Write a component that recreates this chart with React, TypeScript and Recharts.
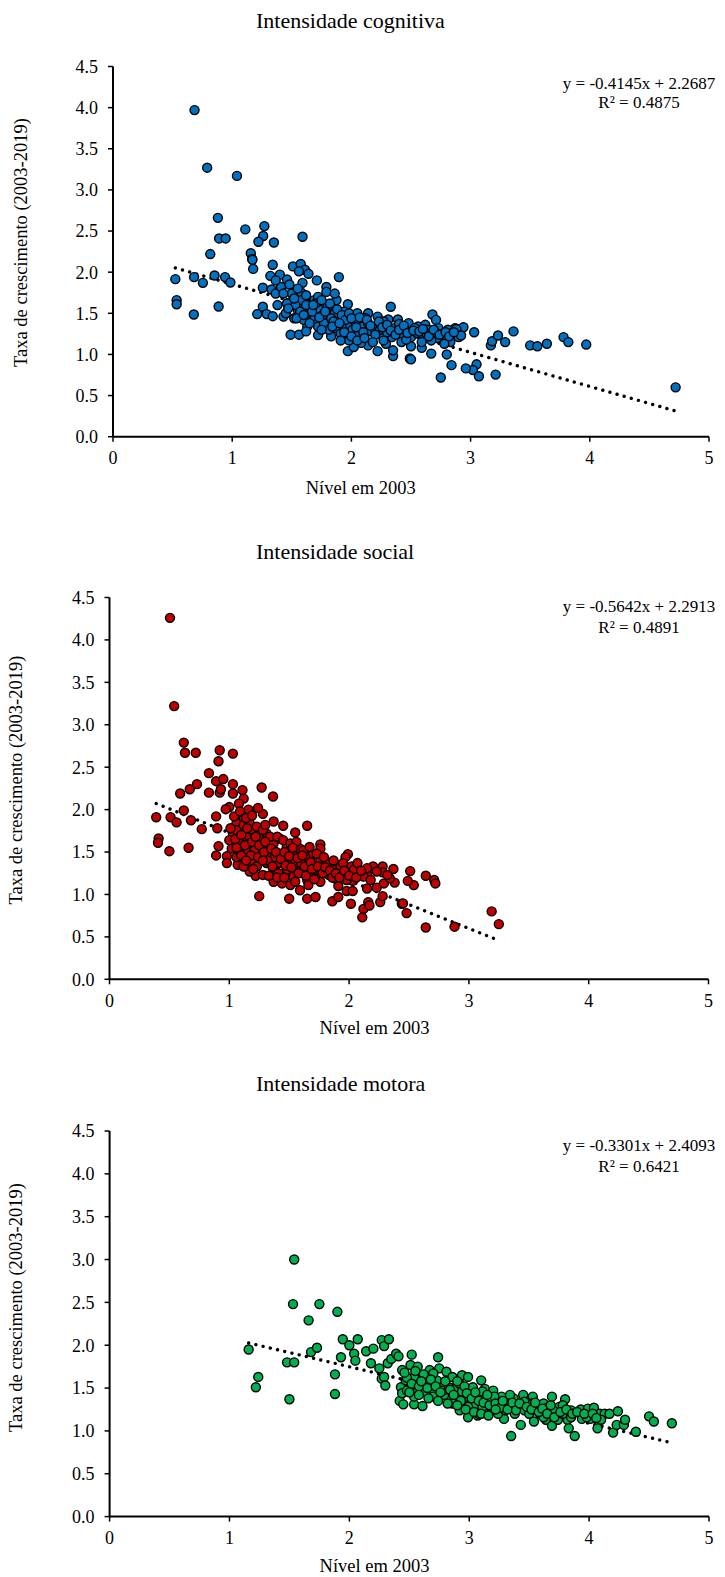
import React from 'react';
import { ScatterChart, Scatter, XAxis, YAxis } from 'recharts';

const FONT = '"Liberation Serif", "Times New Roman", serif';

const chartTitles = ['Intensidade cognitiva', 'Intensidade social', 'Intensidade motora'];
const equations = ['y = -0.4145x + 2.2687', 'y = -0.5642x + 2.2913', 'y = -0.3301x + 2.4093'];
const rSquared = ['R² = 0.4875', 'R² = 0.4891', 'R² = 0.6421'];
const slopes = [-0.4145, -0.5642, -0.3301];
const intercepts = [2.2687, 2.2913, 2.4093];
const xTicks = [0, 1, 2, 3, 4, 5];
const yTicks = [0, 0.5, 1, 1.5, 2, 2.5, 3, 3.5, 4, 4.5];
const xAxisTitle = 'Nível em 2003';
const yAxisTitle = 'Taxa de crescimento (2003-2019)';
const colors = ['#0070C0', '#C00000', '#00B050'];

const cognitivaPoints: [number, number][] = [
  [0.684, 3.97], [0.79, 3.27], [1.04, 3.17], [0.88, 2.66], [1.11, 2.52], [1.27, 2.56], [1.26, 2.44],
  [1.22, 2.37], [0.89, 2.41], [0.945, 2.41], [1.35, 2.36], [1.59, 2.43], [0.816, 2.22], [1.156, 2.23],
  [1.167, 2.16], [1.176, 2.04], [1.17, 2.15], [0.523, 1.915], [0.534, 1.66], [0.534, 1.61], [0.68, 1.94],
  [0.754, 1.87], [0.852, 1.96], [0.94, 1.94], [0.985, 1.875], [0.678, 1.486], [0.886, 1.583], [1.257, 1.81],
  [1.34, 2.09], [1.257, 1.58], [1.21, 1.49], [1.29, 1.49], [1.34, 1.465], [1.43, 1.46], [1.32, 1.955],
  [1.4, 1.97], [1.33, 1.79], [1.365, 1.74], [1.51, 2.07], [1.575, 2.1], [1.61, 2.03], [1.64, 1.98],
  [1.56, 2.01], [1.71, 1.9], [1.895, 1.94], [1.59, 1.87], [1.46, 1.91], [1.49, 1.24], [1.56, 1.24],
  [1.97, 1.04], [1.58, 1.75], [1.61, 1.66], [1.48, 1.63], [1.41, 1.82], [1.79, 1.82], [1.79, 1.76],
  [2.33, 1.58], [2.68, 1.486], [2.75, 0.72], [2.8, 1.0], [2.84, 0.87], [2.49, 0.95], [2.5, 0.94],
  [2.35, 0.98], [2.35, 1.05], [2.67, 1.01], [2.5, 1.1], [2.59, 1.08], [2.72, 1.2], [2.87, 1.32],
  [2.9, 1.21], [2.83, 1.15], [2.22, 1.04], [2.14, 1.11], [2.08, 1.14], [2.02, 1.09], [1.98, 1.17],
  [1.72, 1.235], [1.83, 1.22], [1.63, 1.34], [1.72, 1.34], [1.66, 1.445], [1.74, 1.54], [1.875, 1.66],
  [1.97, 1.61], [1.96, 1.35], [1.87, 1.32], [1.91, 1.43], [2.05, 1.5], [2.14, 1.5], [2.22, 1.46],
  [2.31, 1.425], [2.39, 1.425], [2.48, 1.38], [2.56, 1.34], [2.62, 1.36], [2.71, 1.42], [2.81, 1.3],
  [2.1, 1.34], [2.17, 1.28], [2.25, 1.235], [2.34, 1.21], [2.42, 1.255], [2.5, 1.21], [2.59, 1.235],
  [2.67, 1.17], [1.99, 1.36], [1.86, 1.5], [1.8, 1.58], [1.69, 1.66], [1.55, 1.54], [1.46, 1.62],
  [1.5, 1.74], [1.45, 1.5], [1.6, 1.42], [1.69, 1.46], [1.77, 1.38], [1.83, 1.44], [1.91, 1.255],
  [2.03, 1.4], [2.14, 1.38], [2.19, 1.32], [2.28, 1.36], [2.36, 1.32], [2.45, 1.3], [2.53, 1.32],
  [2.64, 1.3], [2.73, 1.32], [2.84, 1.255], [2.29, 1.13], [2.42, 1.15], [2.59, 1.15], [2.78, 1.13],
  [1.91, 1.17], [2.08, 1.21], [1.63, 1.5], [1.58, 1.66], [1.43, 1.74], [1.365, 1.9], [1.72, 1.7],
  [1.86, 1.74], [3.03, 1.27], [3.05, 0.88], [3.02, 0.81], [3.07, 0.735], [2.96, 0.83], [3.21, 0.755],
  [3.17, 1.11], [3.18, 1.16], [3.23, 1.23], [3.29, 1.15], [3.36, 1.28], [3.5, 1.11], [3.56, 1.1],
  [3.64, 1.13], [3.78, 1.21], [3.82, 1.15], [3.97, 1.12], [4.72, 0.6], [2.94, 1.33], [2.88, 1.31],
  [2.92, 1.23], [1.53, 1.6], [1.66, 1.56], [1.76, 1.48], [1.94, 1.52], [2.01, 1.3], [2.12, 1.44],
  [2.24, 1.3], [2.4, 1.37], [2.55, 1.26], [2.63, 1.25], [2.76, 1.25], [2.3, 1.27], [1.52, 1.44],
  [1.62, 1.28], [1.81, 1.3], [2.06, 1.24], [2.27, 1.4], [2.46, 1.18], [2.7, 1.27],
  [1.52, 1.68], [1.57, 1.52], [1.62, 1.6], [1.67, 1.52], [1.7, 1.62], [1.73, 1.45], [1.78, 1.52],
  [1.82, 1.62], [1.85, 1.4], [1.88, 1.55], [1.92, 1.48], [1.95, 1.42], [1.98, 1.5], [2.0, 1.44],
  [2.04, 1.33], [2.07, 1.45], [2.1, 1.27], [2.13, 1.42], [2.16, 1.35], [2.2, 1.24], [2.23, 1.4],
  [2.26, 1.33], [2.3, 1.36], [2.33, 1.29], [2.37, 1.24], [2.4, 1.3], [2.44, 1.35], [2.47, 1.26],
  [2.52, 1.29], [2.57, 1.28], [2.6, 1.31], [2.65, 1.22], [2.69, 1.3], [2.74, 1.24], [2.79, 1.27],
  [2.82, 1.22], [2.86, 1.27], [1.47, 1.56], [1.54, 1.44], [1.6, 1.48], [1.65, 1.38], [1.75, 1.3],
  [1.84, 1.34], [1.9, 1.38], [1.94, 1.27], [2.0, 1.22], [2.05, 1.17], [2.11, 1.2], [2.18, 1.15],
  [2.27, 1.17], [1.68, 1.6], [1.75, 1.66], [1.62, 1.72], [1.55, 1.8], [1.48, 1.85], [1.38, 1.6],
];

const socialPoints: [number, number][] = [
  [0.505, 4.26], [0.54, 3.22], [0.62, 2.79], [0.63, 2.67], [0.72, 2.67], [0.92, 2.7], [1.03, 2.66],
  [0.91, 2.57], [0.83, 2.43], [0.89, 2.335], [0.95, 2.36], [0.59, 2.19], [0.67, 2.24], [0.73, 2.3],
  [0.83, 2.2], [0.92, 2.2], [0.93, 2.24], [1.03, 2.3], [1.03, 2.19], [1.11, 2.23], [1.12, 2.13],
  [1.27, 2.26], [1.365, 2.155], [0.62, 1.99], [0.68, 1.875], [0.77, 1.77], [0.39, 1.91], [0.51, 1.91],
  [0.56, 1.85], [0.41, 1.66], [0.405, 1.61], [0.5, 1.51], [0.66, 1.55], [0.89, 1.92], [0.9, 1.78],
  [0.91, 1.57], [0.89, 1.46], [0.98, 1.45], [0.98, 1.37], [1.07, 1.35], [1.15, 1.37], [1.22, 1.22],
  [1.25, 0.98], [1.5, 0.95], [1.65, 0.95], [1.72, 0.97], [1.86, 0.92], [1.91, 0.97], [2.015, 0.89],
  [1.98, 1.04], [2.03, 1.04], [2.11, 0.73], [2.12, 0.83], [2.16, 0.91], [2.17, 0.87], [2.26, 0.91],
  [2.28, 0.98], [2.44, 0.89], [2.45, 0.895], [2.48, 0.78], [2.64, 0.61], [2.88, 0.62], [3.19, 0.8],
  [3.25, 0.65], [2.51, 1.275], [2.64, 1.22], [2.71, 1.17], [2.72, 1.13], [2.54, 1.11], [2.49, 1.16],
  [2.37, 1.3], [2.38, 1.14], [2.28, 1.33], [2.28, 1.26], [2.2, 1.33], [2.23, 1.08], [2.15, 1.07],
  [2.15, 1.24], [2.08, 1.25], [1.99, 1.475], [1.97, 1.44], [1.9, 1.35], [1.94, 1.25], [2.02, 1.33],
  [2.03, 1.16], [1.91, 1.1], [1.98, 1.17], [1.82, 1.3], [1.76, 1.59], [1.76, 1.54], [1.65, 1.81],
  [1.45, 1.81], [1.55, 1.73], [1.37, 1.86], [1.28, 1.95], [1.24, 2.02], [1.16, 2.0], [1.12, 1.89],
  [1.08, 2.07], [1.0, 2.03], [0.97, 2.005], [1.06, 1.84], [1.03, 1.72], [1.09, 1.6], [1.14, 1.68],
  [1.2, 1.76], [1.26, 1.64], [1.31, 1.72], [1.37, 1.6], [1.42, 1.66], [1.48, 1.56], [1.535, 1.5],
  [1.59, 1.54], [1.65, 1.44], [1.7, 1.48], [1.76, 1.4], [1.81, 1.37], [1.87, 1.29], [1.93, 1.33],
  [2.04, 1.29], [2.12, 1.21], [2.18, 1.17], [2.29, 1.13], [2.34, 1.19], [1.09, 1.44], [1.14, 1.52],
  [1.2, 1.4], [1.26, 1.48], [1.31, 1.37], [1.37, 1.29], [1.42, 1.37], [1.48, 1.29], [1.535, 1.21],
  [1.59, 1.29], [1.65, 1.17], [1.7, 1.23], [1.76, 1.15], [1.37, 1.15], [1.44, 1.13], [1.51, 1.11],
  [1.59, 1.05], [1.66, 1.11], [1.28, 1.23], [1.23, 1.33], [1.17, 1.27], [1.12, 1.33], [1.06, 1.44],
  [1.02, 1.54], [1.0, 1.64], [1.06, 1.76], [1.12, 1.82], [1.17, 1.84], [1.23, 1.8], [1.28, 1.76],
  [1.34, 1.68], [1.4, 1.68], [1.45, 1.64], [1.51, 1.6], [1.56, 1.62], [1.62, 1.52], [1.67, 1.56],
  [1.73, 1.48], [1.79, 1.44], [1.87, 1.4], [1.95, 1.37], [2.07, 1.37], [2.15, 1.31], [2.23, 1.27],
  [2.32, 1.23], [1.16, 1.6], [1.21, 1.52], [1.27, 1.56], [1.33, 1.48], [1.38, 1.44], [1.44, 1.46],
  [1.49, 1.4], [1.55, 1.37], [1.6, 1.37], [1.66, 1.31], [1.72, 1.29], [1.77, 1.27], [1.83, 1.23],
  [1.88, 1.19],
  [1.05, 1.65], [1.08, 1.52], [1.1, 1.7], [1.13, 1.58], [1.15, 1.78], [1.18, 1.46], [1.19, 1.62],
  [1.22, 1.68], [1.24, 1.44], [1.25, 1.58], [1.29, 1.5], [1.3, 1.62], [1.32, 1.4], [1.35, 1.54],
  [1.36, 1.33], [1.39, 1.5], [1.41, 1.25], [1.43, 1.42], [1.46, 1.5], [1.47, 1.34], [1.5, 1.45],
  [1.52, 1.32], [1.53, 1.55], [1.57, 1.43], [1.58, 1.25], [1.61, 1.46], [1.63, 1.33], [1.64, 1.22],
  [1.68, 1.38], [1.69, 1.3], [1.71, 1.18], [1.74, 1.33], [1.78, 1.25], [1.8, 1.32], [1.84, 1.28],
  [1.86, 1.2], [1.89, 1.25], [1.92, 1.2], [1.96, 1.28], [2.0, 1.22], [2.06, 1.2], [2.1, 1.28],
  [1.1, 1.46], [1.14, 1.4], [1.2, 1.3], [1.28, 1.4], [1.33, 1.22], [1.4, 1.2], [1.46, 1.2],
  [1.55, 1.15], [1.06, 1.55], [1.01, 1.78], [1.04, 1.92], [1.09, 1.98], [1.14, 1.9], [1.19, 1.93],
  [1.3, 1.82],
];

const motoraPoints: [number, number][] = [
  [1.54, 3.0], [1.53, 2.48], [1.75, 2.48], [1.9, 2.39], [1.66, 2.29], [1.16, 1.95], [1.22, 1.51],
  [1.24, 1.63], [1.5, 1.37], [1.48, 1.8], [1.54, 1.8], [1.68, 1.92], [1.73, 1.97], [1.88, 1.66],
  [1.88, 1.43], [1.93, 1.86], [1.945, 2.07], [2.07, 2.07], [2.0, 2.0], [2.04, 1.9], [2.05, 1.82],
  [2.14, 1.93], [2.2, 1.96], [2.18, 1.79], [2.27, 2.06], [2.29, 1.99], [2.33, 2.07], [2.25, 1.73],
  [2.27, 1.61], [2.29, 1.63], [2.3, 1.53], [2.32, 1.79], [2.35, 1.84], [2.39, 1.9], [2.41, 1.87],
  [2.52, 1.89], [2.74, 1.86], [2.42, 1.35], [2.45, 1.31], [2.54, 1.31], [2.61, 1.29], [2.43, 1.51],
  [2.44, 1.44], [2.47, 1.59], [2.51, 1.77], [2.57, 1.75], [2.44, 1.71], [2.51, 1.51], [2.57, 1.46],
  [2.6, 1.63], [2.67, 1.71], [2.63, 1.55], [2.7, 1.47], [2.75, 1.73], [2.76, 1.55], [2.81, 1.69],
  [2.83, 1.4], [2.86, 1.63], [2.89, 1.51], [2.94, 1.65], [2.95, 1.36], [2.99, 1.63], [3.0, 1.47],
  [3.07, 1.18], [3.1, 1.59], [3.11, 1.4], [3.13, 1.49], [3.18, 1.28], [3.2, 1.47], [3.24, 1.36],
  [3.27, 1.4], [3.29, 1.14], [3.34, 1.3], [3.35, 0.94], [3.37, 1.38], [3.43, 1.07], [3.45, 1.42],
  [3.46, 1.24], [3.5, 1.2], [3.53, 1.4], [3.54, 1.11], [3.59, 1.28], [3.62, 1.32], [3.64, 1.13],
  [3.69, 1.4], [3.69, 1.06], [3.72, 1.2], [3.75, 1.28], [3.8, 1.37], [3.82, 1.13], [3.83, 1.03],
  [3.88, 0.94], [3.85, 1.24], [3.93, 1.25], [3.94, 1.14], [3.99, 1.26], [4.01, 1.14], [4.04, 1.27],
  [4.07, 1.03], [4.09, 1.2], [4.13, 1.2], [4.17, 1.2], [4.2, 0.98], [4.23, 1.07], [4.24, 1.23],
  [4.29, 1.07], [4.3, 1.13], [4.39, 0.99], [4.5, 1.17], [4.54, 1.11], [4.69, 1.09], [3.24, 1.2],
  [3.14, 1.24], [3.05, 1.3], [2.97, 1.4], [2.89, 1.36], [2.79, 1.42], [2.7, 1.4], [2.63, 1.46],
  [2.73, 1.59], [2.92, 1.55], [3.03, 1.51], [3.21, 1.4], [3.3, 1.32], [3.4, 1.3], [3.5, 1.32],
  [3.59, 1.2], [3.66, 1.28], [3.74, 1.13], [3.78, 1.2], [3.11, 1.28], [2.99, 1.28], [2.92, 1.24],
  [2.86, 1.32], [2.78, 1.47], [2.67, 1.59], [2.54, 1.63], [2.48, 1.47], [2.54, 1.4], [2.99, 1.16],
  [3.08, 1.2], [3.19, 1.26], [3.3, 1.24], [3.38, 1.2], [3.46, 1.34], [3.56, 1.24], [3.62, 1.16],
  [3.7, 1.24], [3.85, 1.16], [3.98, 1.16], [4.1, 1.13], [2.7, 1.67], [2.83, 1.51], [2.94, 1.46],
  [3.11, 1.46], [3.34, 1.42], [3.53, 1.32], [3.78, 1.3],
  [2.48, 1.62], [2.52, 1.55], [2.55, 1.7], [2.58, 1.52], [2.62, 1.66], [2.65, 1.5], [2.68, 1.6],
  [2.72, 1.52], [2.76, 1.45], [2.8, 1.58], [2.84, 1.48], [2.87, 1.42], [2.9, 1.58], [2.93, 1.35],
  [2.96, 1.52], [2.98, 1.44], [3.02, 1.38], [3.05, 1.45], [3.08, 1.35], [3.12, 1.33], [3.15, 1.42],
  [3.17, 1.3], [3.22, 1.32], [3.26, 1.27], [3.28, 1.35], [3.32, 1.25], [3.36, 1.33], [3.39, 1.24],
  [3.42, 1.32], [3.48, 1.28], [3.52, 1.25], [3.55, 1.33], [3.58, 1.22], [3.61, 1.26], [3.65, 1.2],
  [3.68, 1.3], [3.71, 1.16], [3.76, 1.22], [3.81, 1.25], [3.86, 1.2], [3.9, 1.22], [3.96, 1.2],
  [4.03, 1.2], [4.06, 1.15], [2.58, 1.42], [2.66, 1.38], [2.74, 1.35], [2.82, 1.32], [2.9, 1.3],
  [2.97, 1.25], [3.04, 1.22], [3.1, 1.2], [3.16, 1.18], [3.22, 1.25], [2.6, 1.58], [2.5, 1.45],
  [2.46, 1.68],
];

const datasets = [cognitivaPoints, socialPoints, motoraPoints];

// layout of each panel (chart top, height, plot box inside the chart)
const panels = [
  { top: 0, height: 525, mTop: 66.5, left: 113, right: 16, xAxisH: 88.3 },
  { top: 530, height: 525, mTop: 67.5, left: 109.5, right: 16.5, xAxisH: 75.7 },
  { top: 1060, height: 517, mTop: 71, left: 109.6, right: 16, xAxisH: 60.4 },
];

// text positions
const titlePos = [[256, 20], [256, 551.7], [256, 1083.3]];
const eqPos = [[639, 83.3, 102.7], [639, 606.7, 627.3], [639, 1145, 1166]];
const xTitlePos = [[360.7, 488.3], [374.6, 1028.3], [374.5, 1566]];
const yTitlePos = [[21, 242.5], [16, 780], [16, 1307.5]];

const makeDot = (fill: string) => (props: any) => {
  const { cx, cy } = props;
  if (cx == null || cy == null) return <g />;
  return <circle cx={cx} cy={cy} r={4.5} fill={fill} stroke="#000" strokeWidth={1.4} />;
};

const noShape = () => <g />;

function Panel({ idx }: { idx: number }) {
  const p = panels[idx];
  const pts = datasets[idx].map(([x, y]) => ({ x, y }));
  const xs = datasets[idx].map((d) => d[0]);
  const xMin = Math.min(...xs);
  const xMax = Math.max(...xs);
  const trend = [
    { x: xMin, y: slopes[idx] * xMin + intercepts[idx] },
    { x: xMax, y: slopes[idx] * xMax + intercepts[idx] },
  ];
  const tickStyle = { fill: '#000', fontSize: 18, fontFamily: FONT };
  return (
    <div style={{ position: 'absolute', left: 0, top: p.top, width: 725, height: p.height }}>
      <ScatterChart
        width={725}
        height={p.height}
        margin={{ top: p.mTop, right: p.right, left: 0, bottom: 0 }}
      >
        <XAxis
          type="number"
          dataKey="x"
          domain={[0, 5]}
          ticks={xTicks}
          height={p.xAxisH}
          tick={tickStyle}
          tickSize={5}
          tickMargin={10}
          axisLine={{ stroke: '#000', strokeWidth: 2 }}
          tickLine={{ stroke: '#000', strokeWidth: 1.5 }}
          allowDataOverflow
        />
        <YAxis
          type="number"
          dataKey="y"
          domain={[0, 4.5]}
          ticks={yTicks}
          width={p.left}
          tick={tickStyle}
          tickSize={5}
          tickMargin={10}
          tickFormatter={(v: number) => v.toFixed(1)}
          axisLine={{ stroke: '#000', strokeWidth: 2 }}
          tickLine={{ stroke: '#000', strokeWidth: 1.5 }}
          allowDataOverflow
          interval={0}
        />
        <Scatter
          data={trend}
          isAnimationActive={false}
          shape={noShape}
          line={{ stroke: '#000', strokeWidth: 3.4, strokeDasharray: '0.01 7.4', strokeLinecap: 'round' }}
          lineType="joint"
        />
        <Scatter data={pts} isAnimationActive={false} shape={makeDot(colors[idx])} />
      </ScatterChart>
    </div>
  );
}

export default function App() {
  return (
    <div style={{ position: 'absolute', left: 0, top: 0, width: 725, height: 1577, background: '#fff' }}>
      {[0, 1, 2].map((i) => (
        <Panel key={i} idx={i} />
      ))}
      <svg
        width={725}
        height={1577}
        style={{ position: 'absolute', left: 0, top: 0, pointerEvents: 'none' }}
      >
        {[0, 1, 2].map((i) => (
          <g key={i} fontFamily={FONT} fill="#000">
            <text x={titlePos[i][0]} y={titlePos[i][1]} fontSize={22} dominantBaseline="central" textAnchor="start">
              {chartTitles[i]}
            </text>
            <text x={eqPos[i][0]} y={eqPos[i][1]} fontSize={17} dominantBaseline="central" textAnchor="middle">
              {equations[i]}
            </text>
            <text x={eqPos[i][0]} y={eqPos[i][2]} fontSize={17} dominantBaseline="central" textAnchor="middle">
              {rSquared[i]}
            </text>
            <text x={xTitlePos[i][0]} y={xTitlePos[i][1]} fontSize={18.5} dominantBaseline="central" textAnchor="middle">
              {xAxisTitle}
            </text>
            <text
              x={yTitlePos[i][0]}
              y={yTitlePos[i][1]}
              fontSize={18.5}
              dominantBaseline="central"
              textAnchor="middle"
              transform={`rotate(-90 ${yTitlePos[i][0]} ${yTitlePos[i][1]})`}
            >
              {yAxisTitle}
            </text>
          </g>
        ))}
      </svg>
    </div>
  );
}
